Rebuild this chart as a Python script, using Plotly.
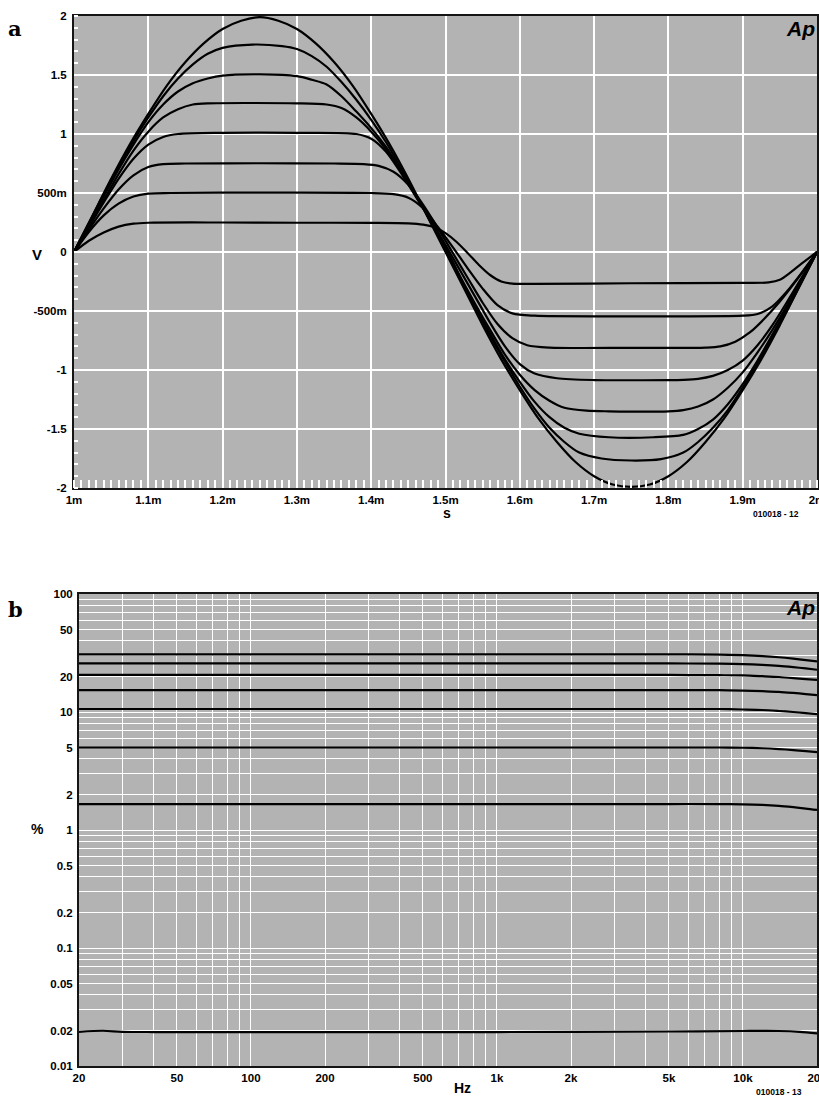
import plotly.graph_objects as go
import math

# ---------------- Chart a: waveforms (time in ms, voltage in V) ----------------
t1 = [1.00,1.02,1.04,1.06,1.08,1.10,1.20,1.30,1.40,1.45,1.47,1.485,1.50,1.515,1.53,1.545,1.56,1.575,1.59,1.62,1.75,1.90,1.935,1.95,1.965,1.98,2.00]
v1 = [0,0.095,0.165,0.215,0.24,0.248,0.25,0.248,0.247,0.243,0.232,0.21,0.16,0.085,-0.01,-0.11,-0.195,-0.25,-0.268,-0.27,-0.265,-0.262,-0.258,-0.235,-0.17,-0.095,0]

t2 = [1.00,1.02,1.04,1.06,1.08,1.10,1.13,1.25,1.40,1.43,1.45,1.47,1.49,1.51,1.53,1.55,1.57,1.59,1.62,1.75,1.90,1.92,1.94,1.96,1.98,2.00]
v2 = [0,0.17,0.31,0.41,0.47,0.495,0.50,0.503,0.50,0.49,0.46,0.37,0.21,0.04,-0.14,-0.31,-0.45,-0.52,-0.54,-0.545,-0.54,-0.525,-0.46,-0.33,-0.17,0]

t3 = [1.00,1.02,1.04,1.06,1.08,1.10,1.12,1.15,1.25,1.35,1.39,1.41,1.43,1.45,1.47,1.49,1.51,1.53,1.55,1.57,1.59,1.61,1.64,1.75,1.85,1.87,1.89,1.91,1.93,1.95,1.97,2.00]
v3 = [0,0.19,0.37,0.53,0.65,0.72,0.745,0.75,0.752,0.75,0.745,0.73,0.68,0.57,0.40,0.20,-0.01,-0.22,-0.43,-0.61,-0.73,-0.79,-0.81,-0.812,-0.81,-0.80,-0.76,-0.68,-0.56,-0.42,-0.26,0]

t4 = [1.00,1.02,1.04,1.06,1.08,1.10,1.12,1.14,1.20,1.30,1.38,1.40,1.42,1.44,1.46,1.48,1.50,1.52,1.54,1.56,1.58,1.60,1.62,1.65,1.70,1.80,1.82,1.84,1.86,1.88,1.90,1.92,1.94,1.96,1.98,2.00]
v4 = [0,0.21,0.42,0.62,0.79,0.91,0.975,1.0,1.01,1.01,1.0,0.96,0.85,0.67,0.47,0.275,0.06,-0.16,-0.38,-0.60,-0.80,-0.95,-1.03,-1.07,-1.085,-1.085,-1.083,-1.075,-1.05,-1.00,-0.92,-0.79,-0.62,-0.42,-0.21,0]

t5 = [1.00,1.02,1.04,1.06,1.08,1.10,1.12,1.14,1.16,1.18,1.30,1.34,1.36,1.38,1.40,1.42,1.44,1.46,1.48,1.50,1.52,1.54,1.56,1.58,1.60,1.62,1.64,1.66,1.69,1.72,1.80,1.82,1.84,1.86,1.88,1.90,1.92,1.94,1.96,1.98,2.00]
v5 = [0,0.22,0.44,0.66,0.86,1.02,1.14,1.21,1.25,1.26,1.26,1.25,1.22,1.14,1.02,0.87,0.68,0.48,0.265,0.04,-0.21,-0.44,-0.66,-0.87,-1.04,-1.17,-1.26,-1.32,-1.345,-1.35,-1.35,-1.34,-1.31,-1.25,-1.15,-1.02,-0.85,-0.66,-0.45,-0.225,0]

t6 = [1.00,1.02,1.04,1.06,1.08,1.10,1.12,1.14,1.16,1.18,1.20,1.25,1.30,1.32,1.34,1.36,1.38,1.40,1.42,1.44,1.46,1.48,1.50,1.52,1.54,1.56,1.58,1.60,1.62,1.64,1.66,1.68,1.72,1.78,1.82,1.84,1.86,1.88,1.90,1.92,1.94,1.96,1.98,2.00]
v6 = [0,0.235,0.47,0.70,0.91,1.10,1.25,1.36,1.43,1.47,1.495,1.505,1.49,1.46,1.42,1.32,1.19,1.05,0.89,0.69,0.48,0.26,0.02,-0.22,-0.46,-0.69,-0.91,-1.10,-1.27,-1.40,-1.49,-1.54,-1.57,-1.57,-1.55,-1.50,-1.42,-1.29,-1.12,-0.92,-0.70,-0.47,-0.235,0]

t7 = [1.00,1.02,1.04,1.06,1.08,1.10,1.12,1.14,1.16,1.18,1.20,1.24,1.28,1.30,1.32,1.34,1.36,1.38,1.40,1.42,1.44,1.46,1.48,1.50,1.52,1.54,1.56,1.58,1.60,1.62,1.64,1.66,1.68,1.71,1.75,1.79,1.82,1.84,1.86,1.88,1.90,1.92,1.94,1.96,1.98,2.00]
v7 = [0,0.245,0.49,0.72,0.94,1.14,1.32,1.47,1.59,1.68,1.73,1.758,1.745,1.72,1.66,1.57,1.44,1.29,1.12,0.93,0.71,0.48,0.255,0.01,-0.23,-0.47,-0.71,-0.93,-1.14,-1.33,-1.49,-1.61,-1.70,-1.75,-1.767,-1.755,-1.70,-1.61,-1.49,-1.34,-1.15,-0.94,-0.72,-0.49,-0.245,0]

t8 = [1.00,1.025,1.05,1.075,1.10,1.125,1.15,1.175,1.20,1.225,1.25,1.275,1.30,1.325,1.35,1.375,1.40,1.425,1.45,1.475,1.50,
      1.525,1.55,1.575,1.60,1.625,1.65,1.675,1.70,1.725,1.75,1.775,1.80,1.825,1.85,1.875,1.90,1.925,1.95,1.975,2.00]
v8 = [0,0.31,0.62,0.91,1.17,1.41,1.61,1.77,1.89,1.96,1.99,1.96,1.89,1.77,1.61,1.41,1.17,0.91,0.62,0.31,0,
      -0.31,-0.62,-0.91,-1.17,-1.41,-1.61,-1.78,-1.90,-1.97,-1.99,-1.97,-1.90,-1.78,-1.61,-1.41,-1.17,-0.91,-0.62,-0.31,0]

a_xticks = [1.0, 1.1, 1.2, 1.3, 1.4, 1.5, 1.6, 1.7, 1.8, 1.9, 2.0]
a_xtext = ["1m", "1.1m", "1.2m", "1.3m", "1.4m", "1.5m", "1.6m", "1.7m", "1.8m", "1.9m", "2m"]
a_yticks = [-2, -1.5, -1, -0.5, 0, 0.5, 1, 1.5, 2]
a_ytext = ["-2", "-1.5", "-1", "-500m", "0", "500m", "1", "1.5", "2"]

# ---------------- Chart b: THD+N (%) vs frequency (Hz) ----------------
fb = [20, 30, 50, 100, 200, 500, 1000, 2000, 5000, 8000, 10000, 12000, 14000, 16000, 18000, 20000]
d1 = [30.8, 30.8, 30.8, 30.8, 30.8, 30.8, 30.8, 30.8, 30.8, 30.6, 30.3, 29.8, 29.1, 28.3, 27.5, 26.8]
d2 = [25.8, 25.8, 25.8, 25.8, 25.8, 25.8, 25.8, 25.8, 25.8, 25.7, 25.5, 25.1, 24.6, 24.0, 23.4, 22.8]
d3 = [20.6, 20.6, 20.6, 20.6, 20.6, 20.6, 20.6, 20.6, 20.6, 20.5, 20.4, 20.1, 19.8, 19.4, 19.0, 18.7]
d4 = [15.3, 15.3, 15.3, 15.3, 15.3, 15.3, 15.3, 15.3, 15.3, 15.3, 15.2, 15.0, 14.8, 14.5, 14.2, 13.9]
d5 = [10.6, 10.6, 10.6, 10.6, 10.6, 10.6, 10.6, 10.6, 10.6, 10.6, 10.5, 10.4, 10.2, 10.0, 9.8, 9.6]
d6 = [5.0, 5.0, 5.0, 5.0, 5.0, 5.0, 5.0, 5.0, 5.0, 5.0, 4.98, 4.93, 4.85, 4.76, 4.66, 4.57]
d7 = [1.66, 1.66, 1.66, 1.66, 1.66, 1.66, 1.66, 1.66, 1.66, 1.66, 1.65, 1.63, 1.60, 1.56, 1.52, 1.48]
fb8 = [20, 25, 30, 40, 100, 1000, 5000, 10000, 14000, 17000, 20000]
d8 = [0.0195, 0.0199, 0.0195, 0.0194, 0.0194, 0.0194, 0.0196, 0.0198, 0.0198, 0.0195, 0.0189]

b_xticks = [20, 50, 100, 200, 500, 1000, 2000, 5000, 10000, 20000]
b_xtext = ["20", "50", "100", "200", "500", "1k", "2k", "5k", "10k", "20k"]
b_xminor = [30, 40, 60, 70, 80, 90, 300, 400, 600, 700, 800, 900,
            3000, 4000, 6000, 7000, 8000, 9000]
b_yticks = [0.01, 0.02, 0.05, 0.1, 0.2, 0.5, 1, 2, 5, 10, 20, 50, 100]
b_ytext = ["0.01", "0.02", "0.05", "0.1", "0.2", "0.5", "1", "2", "5", "10", "20", "50", "100"]
b_yminor = [0.03, 0.04, 0.06, 0.07, 0.08, 0.09, 0.3, 0.4, 0.6, 0.7, 0.8, 0.9,
            3, 4, 6, 7, 8, 9, 30, 40, 60, 70, 80, 90]

# ---------------- Figure ----------------
W, H = 819, 1097
def fx(px):
    return px / W
def fy(py):
    return 1 - py / H

A = dict(x0=74, x1=817, y0=16, y1=488)
B = dict(x0=79, x1=817, y0=594, y1=1066)

fig = go.Figure()
line_style = dict(color="black", width=2.2, shape="spline", smoothing=0.8)
for t, v in [(t1, v1), (t2, v2), (t3, v3), (t4, v4), (t5, v5), (t6, v6), (t7, v7), (t8, v8)]:
    fig.add_trace(go.Scatter(x=t, y=v, mode="lines", line=line_style,
                             xaxis="x", yaxis="y", showlegend=False, hoverinfo="skip"))
for d in [d1, d2, d3, d4, d5, d6, d7]:
    fig.add_trace(go.Scatter(x=fb, y=d, mode="lines", line=line_style,
                             xaxis="x2", yaxis="y2", showlegend=False, hoverinfo="skip"))
fig.add_trace(go.Scatter(x=fb8, y=d8, mode="lines", line=line_style,
                         xaxis="x2", yaxis="y2", showlegend=False, hoverinfo="skip"))

tickfont = dict(family="Liberation Sans", size=11.5, color="black", weight="bold")
common = dict(showline=True, linecolor="#151515", linewidth=2, mirror=True,
              zeroline=False, showgrid=True, gridcolor="white", automargin=False,
              tickfont=tickfont, fixedrange=True, ticklabeloverflow="allow")

fig.update_layout(
    width=W, height=H, autosize=False,
    margin=dict(l=0, r=0, t=0, b=0),
    paper_bgcolor="white", plot_bgcolor="#b3b3b3",
    xaxis=dict(domain=[fx(A["x0"]), fx(A["x1"])], range=[1, 2], anchor="y",
               tickmode="array", tickvals=a_xticks, ticktext=a_xtext,
               ticks="", ticklabelstandoff=0, gridwidth=1.5,
               minor=dict(tickmode="linear", tick0=1, dtick=0.01, ticks="inside",
                          ticklen=8, tickcolor="white", tickwidth=1.5, showgrid=False),
               **common),
    yaxis=dict(domain=[fy(A["y1"]), fy(A["y0"])], range=[-2, 2], anchor="x",
               tickmode="array", tickvals=a_yticks, ticktext=a_ytext,
               ticks="", ticklabelstandoff=3, gridwidth=1.5,
               minor=dict(tickmode="linear", tick0=0, dtick=0.1, ticks="inside",
                          ticklen=4, tickcolor="white", tickwidth=1.5, showgrid=False),
               **common),
    xaxis2=dict(domain=[fx(B["x0"]), fx(B["x1"])], type="log",
                range=[math.log10(20), math.log10(20000)], anchor="y2",
                tickmode="array", tickvals=b_xticks, ticktext=b_xtext,
                ticks="", ticklabelstandoff=0, gridwidth=1.2,
                minor=dict(tickmode="array", tickvals=b_xminor, showgrid=True,
                           gridcolor="white", gridwidth=1.2, ticks=""),
                **common),
    yaxis2=dict(domain=[fy(B["y1"]), fy(B["y0"])], type="log", range=[-2, 2], anchor="x2",
                tickmode="array", tickvals=b_yticks, ticktext=b_ytext,
                ticks="", ticklabelstandoff=2, gridwidth=1.2,
                minor=dict(tickmode="array", tickvals=b_yminor, showgrid=True,
                           gridcolor="white", gridwidth=1.2, ticks=""),
                **common),
)

def ann(text, px, py, size, family="Liberation Sans", weight="bold", style="normal"):
    fig.add_annotation(text=text, x=fx(px), y=fy(py), xref="paper", yref="paper",
                       xanchor="center", yanchor="middle", showarrow=False,
                       font=dict(family=family, size=size, color="black",
                                 weight=weight, style=style))

ann("a", 15, 29, 21, family="DejaVu Serif")
ann("b", 15, 609, 21, family="DejaVu Serif")
ann("V", 37, 254, 15)
ann("s", 447, 513, 14)
ann("%", 37, 829, 14)
ann("Hz", 462, 1088, 14)
ann("Ap", 800, 29, 21, style="italic")
ann("Ap", 800, 607, 21, style="italic")
ann("010018 - 12", 776, 514, 8.5)
ann("010018 - 13", 779, 1092, 8.5)

fig.write_html("out.html", config={"displayModeBar": False},
               post_script="document.body.style.margin='0';document.body.style.padding='0';document.body.style.overflow='hidden';")
